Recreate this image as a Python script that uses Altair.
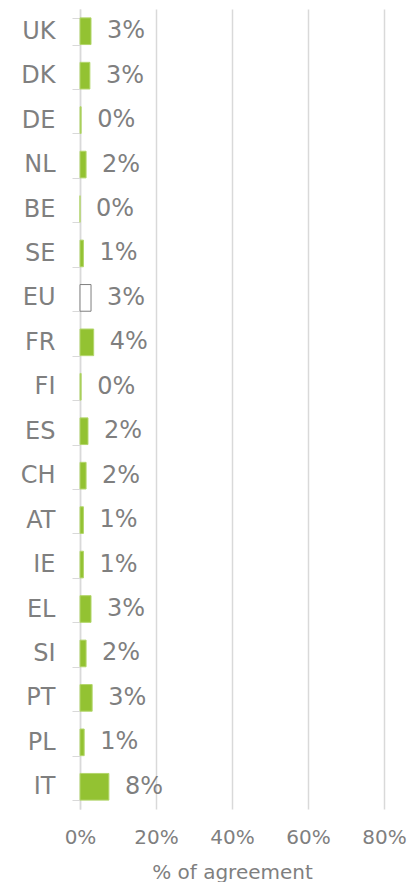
import altair as alt
import pandas as pd

countries = ["UK", "DK", "DE", "NL", "BE", "SE", "EU", "FR", "FI", "ES",
             "CH", "AT", "IE", "EL", "SI", "PT", "PL", "IT"]
values = [0.029, 0.026, 0.003, 0.016, 0.0, 0.009, 0.029, 0.036, 0.003, 0.021,
          0.016, 0.009, 0.009, 0.029, 0.016, 0.032, 0.011, 0.076]
groups = ["EU" if c == "EU" else "country" for c in countries]

df = pd.DataFrame({"country": countries, "value": values, "group": groups})

FONT = "DejaVu Sans"
GRAY = "#7f7f7f"
LIGHT = "#d9d9d9"

y_enc = alt.Y(
    "country:N",
    sort=countries,
    scale=alt.Scale(paddingInner=0.4, paddingOuter=0.2),
    axis=alt.Axis(
        title=None,
        tickBand="extent",
        tickSize=8,
        tickColor=LIGHT,
        domainColor=LIGHT,
        domainWidth=1.5,
        labelPadding=17,
        labelFontSize=24,
        labelFont=FONT,
        labelColor=GRAY,
        grid=False,
    ),
)

x_enc = alt.X(
    "value:Q",
    scale=alt.Scale(domain=[0, 0.8], nice=False),
    axis=alt.Axis(
        title="% of agreement",
        format=".0%",
        values=[0, 0.2, 0.4, 0.6, 0.8],
        domain=False,
        ticks=False,
        grid=True,
        gridColor=LIGHT,
        gridWidth=1.5,
        labelFlush=False,
        labelPadding=18,
        labelFontSize=20,
        labelFont=FONT,
        labelColor=GRAY,
        titleFont=FONT,
        titleFontSize=20,
        titleFontWeight="normal",
        titleColor=GRAY,
        titlePadding=15,
    ),
)

bars = alt.Chart(df).mark_bar(strokeWidth=1).encode(
    x=x_enc,
    y=y_enc,
    fill=alt.Fill("group:N", scale=alt.Scale(domain=["country", "EU"], range=["#93c232", "#ffffff"]), legend=None),
    stroke=alt.Stroke("group:N", scale=alt.Scale(domain=["country", "EU"], range=["#b3d66c", "#7f7f7f"]), legend=None),
)

labels = alt.Chart(df).mark_text(
    align="left", baseline="middle", dx=16, fontSize=24, font=FONT, color=GRAY
).encode(
    x="value:Q",
    y=alt.Y("country:N", sort=countries),
    text=alt.Text("value:Q", format=".0%"),
)

chart = (bars + labels).properties(
    width=304,
    height=800,
    autosize=alt.AutoSizeParams(type="none"),
    padding={"left": 72, "top": 1, "right": 25, "bottom": 85},
).configure_view(stroke=None)

chart.save("out.html", embed_options={"renderer": "svg", "actions": False})
